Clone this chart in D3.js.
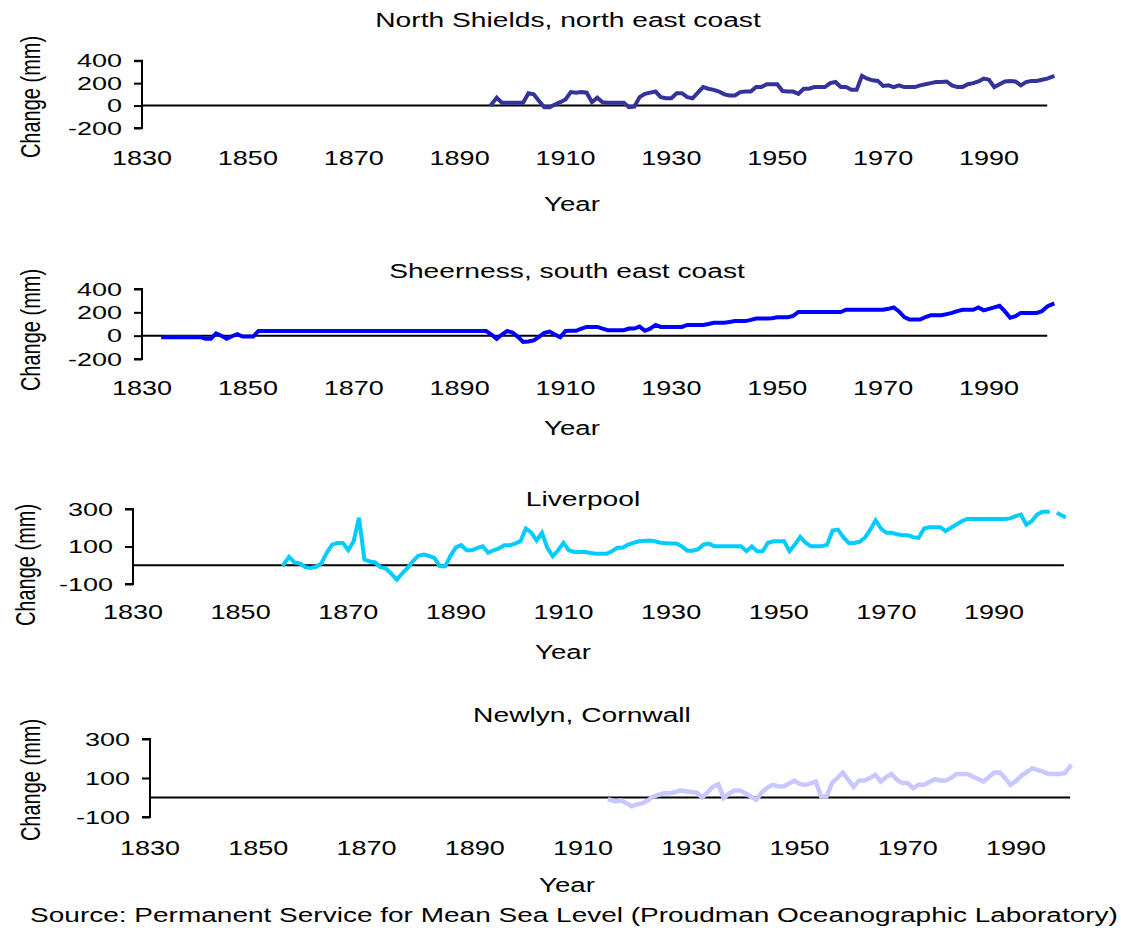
<!DOCTYPE html>
<html>
<head>
<meta charset="utf-8">
<script src="https://cdn.jsdelivr.net/npm/d3@7"></script>
<style>
  html, body { margin: 0; padding: 0; background: #fff; }
  svg { display: block; font-family: Arial, "Liberation Sans", sans-serif; }
</style>
</head>
<body>
<svg id="chart" width="1121" height="931"></svg>
<script>
// Annual mean sea level change (mm) at four UK tide gauges.
const xTickYears = [1830, 1850, 1870, 1890, 1910, 1930, 1950, 1970, 1990];
const yTicksWide = [-200, 0, 200, 400];
const yTicksNarrow = [-100, 100, 300];
const stationTitles = ["North Shields, north east coast", "Sheerness, south east coast", "Liverpool", "Newlyn, Cornwall"];
const sourceNote = "Source: Permanent Service for Mean Sea Level (Proudman Oceanographic Laboratory)";

const northShieldsStart = 1896;
const northShieldsValues = [
  10, 70, 25, 25, 25, 25, 25, 110, 100, 40,
  -15, -15, 10, 30, 55, 120, 115, 120, 115, 30,
  70, 30, 25, 25, 25, 25, -15, -10, 75, 105,
  115, 125, 75, 65, 65, 110, 110, 75, 65, 115,
  165, 150, 140, 125, 100, 90, 90, 120, 125, 125,
  165, 165, 190, 190, 190, 130, 125, 125, 105, 150,
  150, 165, 165, 165, 200, 210, 165, 165, 140, 140,
  265, 240, 225, 220, 175, 180, 165, 180, 165, 165,
  165, 180, 190, 200, 210, 210, 215, 180, 165, 165,
  190, 200, 215, 240, 230, 165, 190, 215, 220, 215,
  180, 210, 220, 220, 230, 240, 258
];

const sheernessStart = 1834;
const sheernessValues = [
  -13, -13, -13, -13, -13, -13, -13, -13, -27, -27,
  19, 0, -27, -5, 13, -8, -8, -8, 40, 40,
  40, 40, 40, 40, 40, 40, 40, 40, 40, 40,
  40, 40, 40, 40, 40, 40, 40, 40, 40, 40,
  40, 40, 40, 40, 40, 40, 40, 40, 40, 40,
  40, 40, 40, 40, 40, 40, 40, 40, 40, 40,
  40, 40, 10, -27, 10, 40, 27, -10, -53, -50,
  -40, -10, 25, 35, 10, -13, 40, 42, 42, 60,
  75, 75, 75, 60, 47, 47, 47, 47, 61, 61,
  78, 42, 60, 92, 75, 75, 75, 75, 75, 92,
  92, 92, 92, 100, 111, 111, 111, 118, 125, 125,
  125, 135, 147, 147, 147, 150, 158, 158, 158, 170,
  203, 203, 203, 203, 203, 203, 203, 203, 203, 222,
  222, 222, 222, 222, 222, 222, 222, 230, 242, 208,
  160, 139, 139, 139, 160, 175, 175, 175, 185, 195,
  210, 222, 222, 222, 242, 217, 230, 242, 256, 208,
  153, 167, 195, 195, 195, 195, 210, 250, 270
];

const liverpoolStart = 1858;
const liverpoolValues = [
  5, 45, 15, 10, -10, -14, -8, 10, 66, 110,
  119, 119, 80, 128, 253, 30, 20, 15, -10, -18,
  -45, -77, -45, -15, 21, 50, 57, 50, 39, -5,
  -5, 50, 95, 107, 80, 80, 93, 101, 66, 80,
  90, 107, 107, 115, 128, 196, 175, 132, 173, 93,
  48, 80, 119, 80, 71, 71, 71, 65, 61, 61,
  61, 75, 93, 93, 110, 119, 128, 130, 132, 128,
  120, 118, 116, 116, 100, 78, 78, 85, 110, 116,
  101, 101, 101, 101, 101, 101, 75, 100, 75, 75,
  120, 128, 128, 128, 75, 110, 151, 120, 101, 101,
  101, 110, 185, 190, 150, 119, 119, 125, 146, 190,
  240, 195, 173, 173, 165, 160, 160, 150, 146, 196,
  203, 203, 203, 182, 200, 217, 235, 247, 247, 247,
  247, 247, 247, 247, 247, 250, 262, 270, 217, 235,
  270, 285, 285, null, 275, 260
];

const newlynStart = 1915;
const newlynValues = [
  -12, -20, -15, -29, -45, -35, -29, -15, 5, 15,
  22, 22, 28, 36, 32, 28, 26, 0, 25, 55,
  68, -3, 20, 36, 36, 22, 5, -12, 25, 50,
  65, 58, 56, 70, 87, 70, 65, 72, 82, 5,
  5, 74, 100, 128, 91, 55, 87, 87, 100, 116,
  82, 105, 120, 91, 74, 74, 48, 65, 65, 80,
  94, 87, 87, 100, 121, 121, 121, 108, 95, 82,
  105, 128, 128, 99, 65, 85, 111, 130, 150, 140,
  133, 121, 121, 121, 125, 159
];

const toSeries = (start, values) => values.map((v, i) => ({ year: start + i, value: v }));

// Panel geometry and styling
const panels = [
  { title: stationTitles[0], series: toSeries(northShieldsStart, northShieldsValues),
    color: "#333399", width: 4, yDomain: [-200, 400], yTicks: yTicksWide,
    x0: 142, x1: 989, axisEnd: 2001, yTop: 60.7, yBottom: 128,
    titleX: 568, titleY: 27, tickLabelY: 165, yearX: 572, yearY: 211, labelX: 33, labelY: 97 },
  { title: stationTitles[1], series: toSeries(sheernessStart, sheernessValues),
    color: "#0000ff", width: 4, yDomain: [-200, 400], yTicks: yTicksWide,
    x0: 142, x1: 989, axisEnd: 2001, yTop: 289, yBottom: 359,
    titleX: 567, titleY: 278, tickLabelY: 395, yearX: 572, yearY: 435, labelX: 33, labelY: 330 },
  { title: stationTitles[2], series: toSeries(liverpoolStart, liverpoolValues),
    color: "#00ccff", width: 4, yDomain: [-100, 300], yTicks: yTicksNarrow,
    x0: 133, x1: 994, axisEnd: 2003, yTop: 509, yBottom: 584,
    titleX: 583, titleY: 506, tickLabelY: 619, yearX: 563, yearY: 659, labelX: 28, labelY: 565 },
  { title: stationTitles[3], series: toSeries(newlynStart, newlynValues),
    color: "#c8c8ff", width: 4.5, yDomain: [-100, 300], yTicks: yTicksNarrow,
    x0: 150, x1: 1016, axisEnd: 2000, yTop: 739, yBottom: 817,
    titleX: 582, titleY: 722, tickLabelY: 855, yearX: 567, yearY: 892, labelX: 33, labelY: 780 }
];

const svg = d3.select("#chart");

// lettering is drawn horizontally widened by the factor sx
function label(parent, x, y, str, size, anchor, sx, rotate) {
  const g = parent.append("g")
    .attr("transform", `translate(${x},${y}) scale(${sx},1)` + (rotate ? ` rotate(${rotate})` : ""));
  g.append("text")
    .attr("text-anchor", anchor || "middle")
    .attr("font-size", size)
    .attr("fill", "#000")
    .text(str);
  return g;
}

panels.forEach(p => {
  const g = svg.append("g");
  const x = d3.scaleLinear().domain([1830, 1990]).range([p.x0, p.x1]);
  const y = d3.scaleLinear().domain(p.yDomain).range([p.yBottom, p.yTop]);

  // vertical value axis with outward ticks
  const yAxis = d3.axisLeft(y).tickValues(p.yTicks).tickSize(8).tickFormat("");
  const ax = g.append("g").attr("transform", `translate(${p.x0},0)`).call(yAxis);
  ax.select(".domain").attr("stroke", "#000").attr("stroke-width", 2)
    .attr("d", `M-8,${y(p.yDomain[1])}H0V${y(p.yDomain[0])}H-8`);
  ax.selectAll(".tick line").attr("stroke", "#000").attr("stroke-width", 2);

  p.yTicks.forEach(t => label(g, p.x0 - 20, y(t) + 6.5, String(t), 19, "end", 1.42));

  // category axis sits on the zero line
  g.append("line")
    .attr("x1", x(1830)).attr("x2", x(p.axisEnd))
    .attr("y1", y(0)).attr("y2", y(0))
    .attr("stroke", "#000").attr("stroke-width", 2);

  xTickYears.forEach(t => label(g, x(t), p.tickLabelY, String(t), 20, "middle", 1.35));

  // station series
  const line = d3.line()
    .defined(d => d.value !== null)
    .x(d => x(d.year))
    .y(d => y(d.value));
  g.append("path")
    .datum(p.series)
    .attr("fill", "none")
    .attr("stroke", p.color)
    .attr("stroke-width", p.width)
    .attr("stroke-linejoin", "miter")
    .attr("stroke-linecap", "square")
    .attr("d", line);

  label(g, p.titleX, p.titleY, p.title, 20, "middle", 1.41);
  label(g, p.yearX, p.yearY, "Year", 20, "middle", 1.38);
  label(g, p.labelX + 7, p.labelY, "Change (mm)", 20, "middle", 1.35, -90);
});

label(svg, 574, 922, sourceNote, 20, "middle", 1.40);
</script>
</body>
</html>
